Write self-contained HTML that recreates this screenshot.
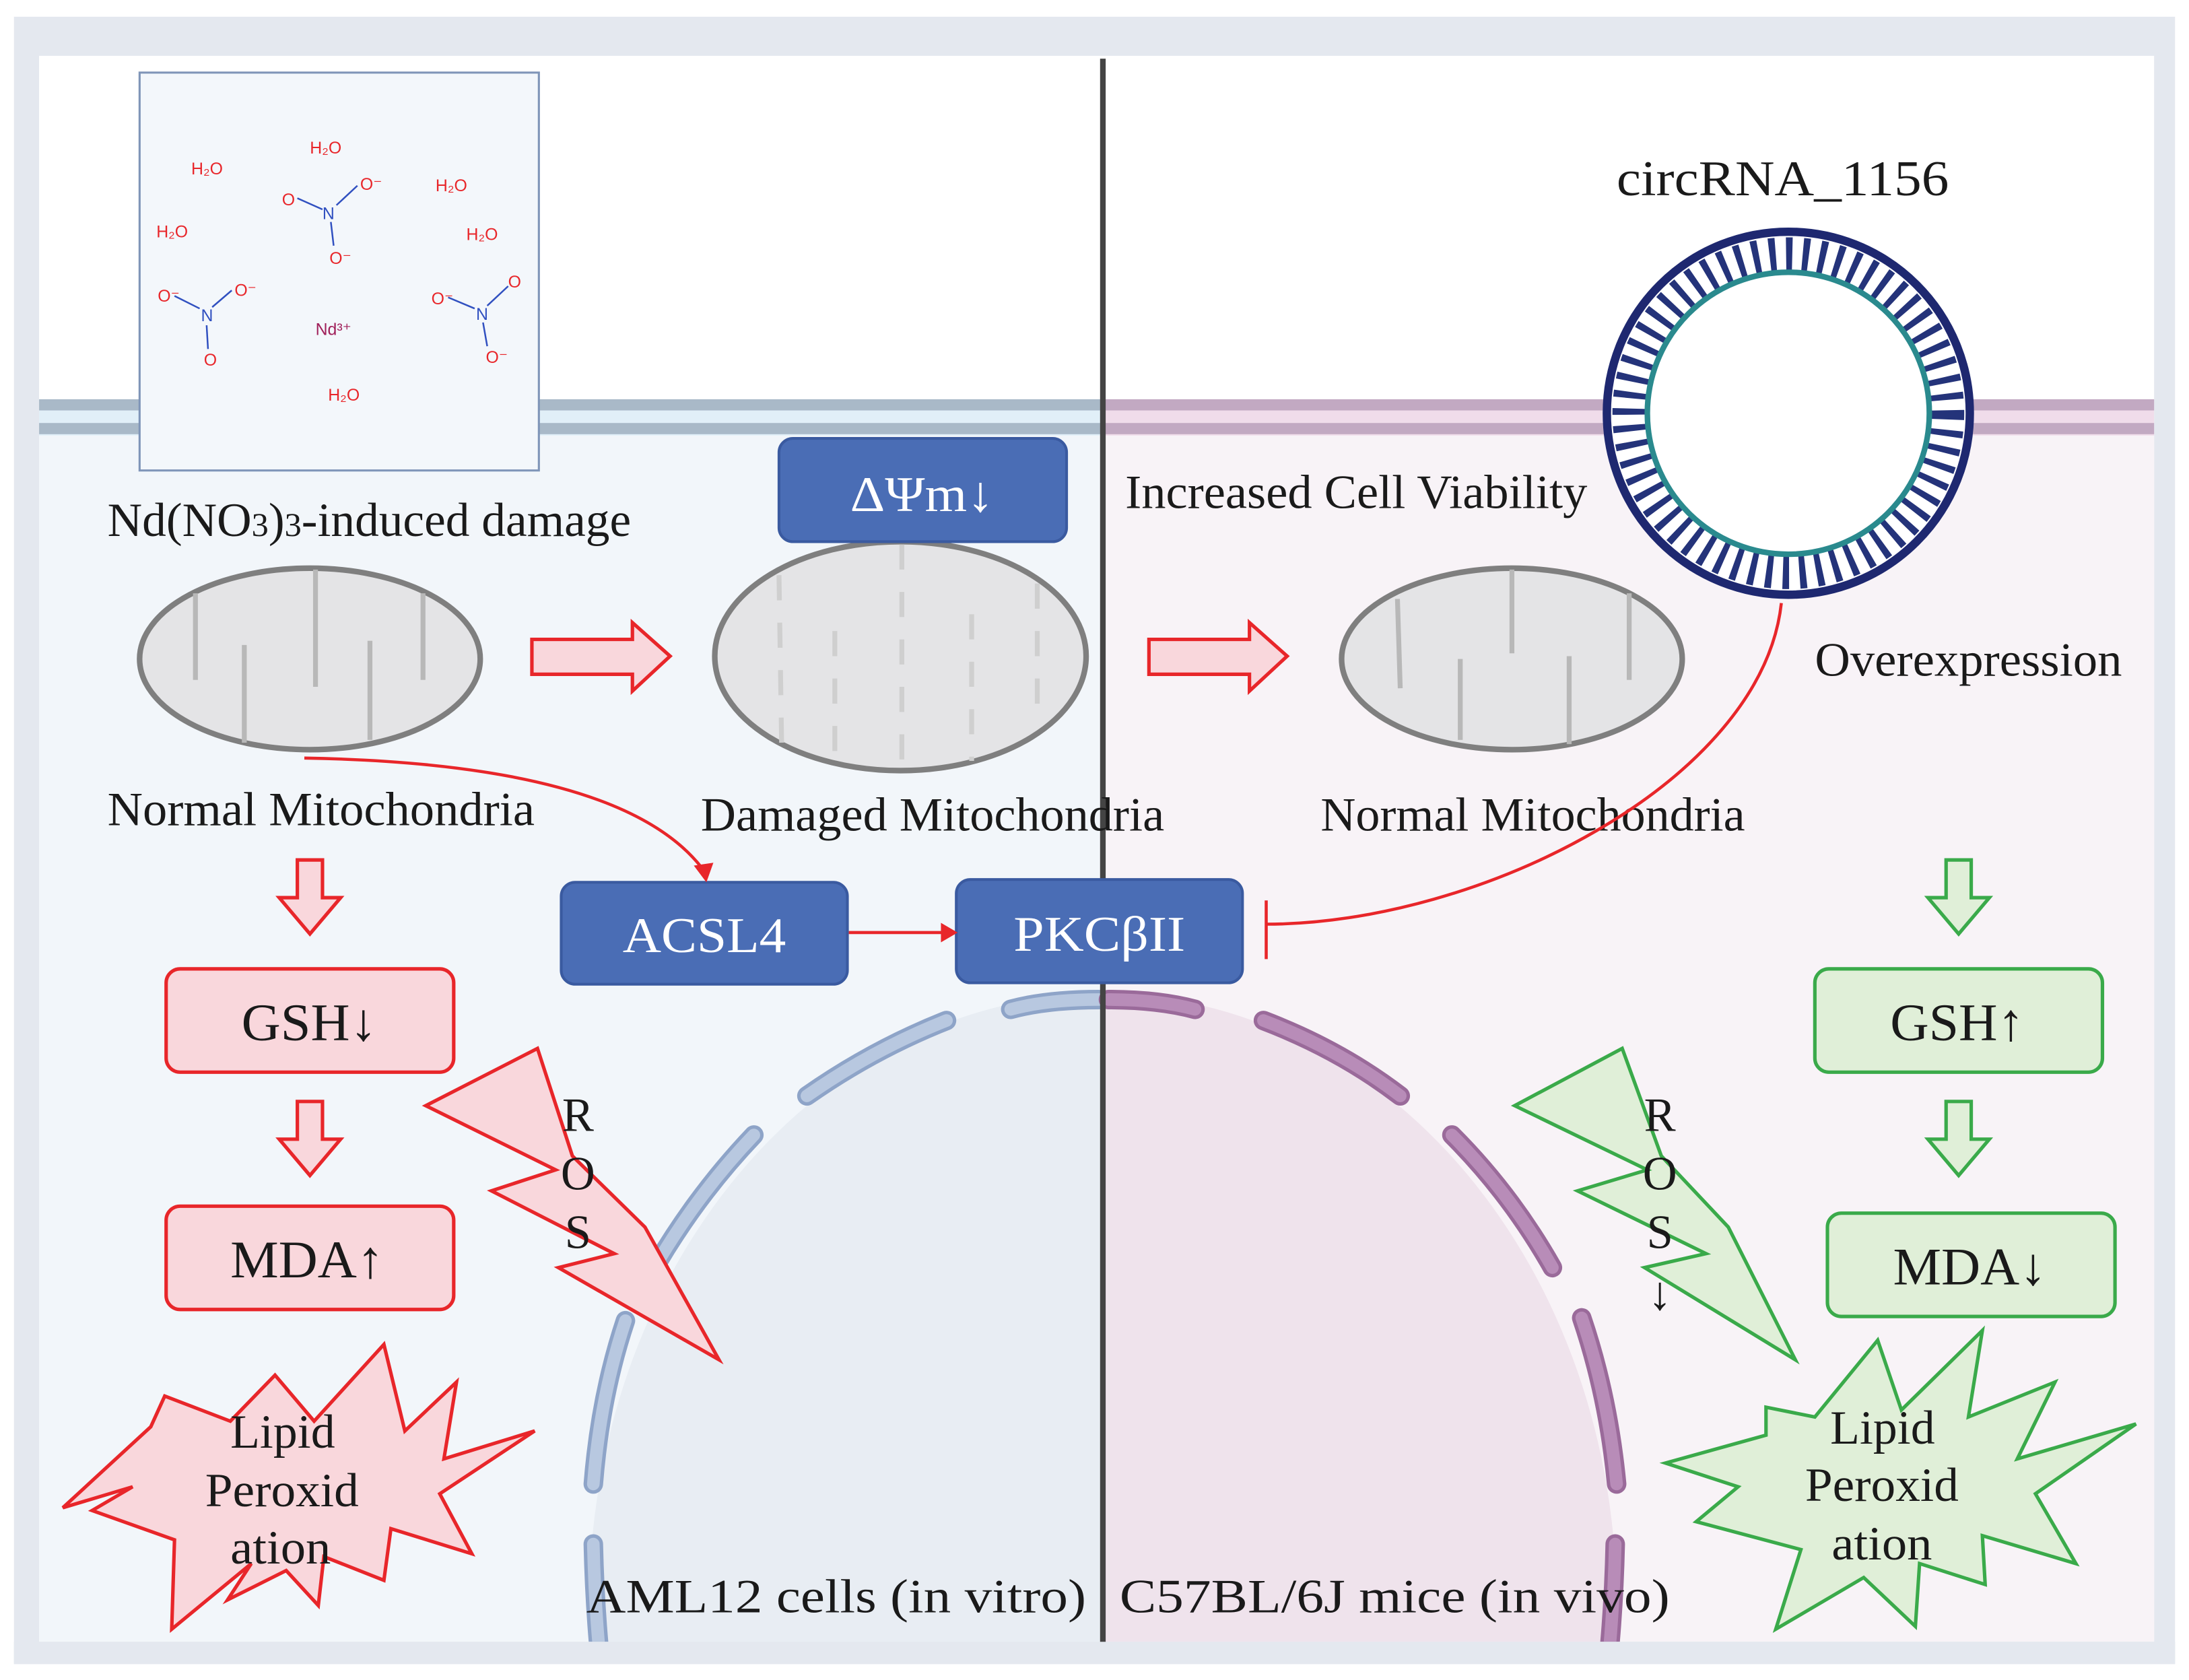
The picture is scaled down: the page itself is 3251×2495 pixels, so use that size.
<!DOCTYPE html>
<html><head><meta charset="utf-8"><style>
html,body{margin:0;padding:0;background:#fff;overflow:hidden;width:3251px;height:2495px;position:relative}
svg{display:block;position:absolute;left:0;top:0}
text{font-family:"Liberation Serif",serif;fill:#1a1a1a}
.w{fill:#fff}
</style></head><body>
<svg width="3251" height="2495" viewBox="0 0 1568 1203.4" preserveAspectRatio="none" xmlns="http://www.w3.org/2000/svg">
<defs>
<clipPath id="cl"><rect x="28" y="40" width="762" height="1136"/></clipPath>
<clipPath id="cr"><rect x="790" y="40" width="753" height="1136"/></clipPath>
<clipPath id="ca"><rect x="28" y="40" width="1515" height="1136"/></clipPath>
</defs>
<rect width="1568" height="1203.4" fill="#fff"/>
<rect x="10" y="12" width="1548" height="1180" fill="#e4e8ef"/>
<rect x="28" y="40" width="1515" height="1136" fill="#fff"/>
<rect x="28" y="300" width="762" height="876" fill="#f2f6fa"/>
<rect x="790" y="300" width="753" height="876" fill="#f8f3f7"/>
<rect x="28" y="286" width="762" height="26" fill="#e1eff8"/>
<rect x="28" y="286" width="762" height="8" fill="#a9b9c8"/>
<rect x="28" y="303" width="762" height="8" fill="#a9b9c8"/>
<rect x="790" y="286" width="753" height="26" fill="#f0dcea"/>
<rect x="790" y="286" width="753" height="8" fill="#c2a9c2"/>
<rect x="790" y="303" width="753" height="8" fill="#c2a9c2"/>
<g clip-path="url(#cl)"><ellipse cx="790" cy="1150" rx="368" ry="438" fill="#e8edf3"/></g>
<g clip-path="url(#cr)"><ellipse cx="790" cy="1150" rx="368" ry="438" fill="#efe3ec"/></g>
<g clip-path="url(#ca)" fill="none" stroke-linecap="round">
<g stroke="#8ea4c8" stroke-width="14">
<path d="M724,723 Q750,716 787,716"/>
<path d="M578,785 Q625,752 678,731"/>
<path d="M470,906 Q500,855 540,813"/>
<path d="M425,1063 Q430,1000 448,946"/>
<path d="M425,1106 Q426,1150 430,1190"/>
</g>
<g stroke="#b8c8e0" stroke-width="9">
<path d="M724,723 Q750,716 787,716"/>
<path d="M578,785 Q625,752 678,731"/>
<path d="M470,906 Q500,855 540,813"/>
<path d="M425,1063 Q430,1000 448,946"/>
<path d="M425,1106 Q426,1150 430,1190"/>
</g>
<g stroke="#9a6a9a" stroke-width="14">
<path d="M794,716 Q830,716 856,723"/>
<path d="M905,731 Q960,752 1003,785"/>
<path d="M1040,813 Q1082,855 1112,908"/>
<path d="M1133,944 Q1152,1000 1158,1063"/>
<path d="M1157,1106 Q1156,1150 1152,1190"/>
</g>
<g stroke="#b88cb8" stroke-width="9">
<path d="M794,716 Q830,716 856,723"/>
<path d="M905,731 Q960,752 1003,785"/>
<path d="M1040,813 Q1082,855 1112,908"/>
<path d="M1133,944 Q1152,1000 1158,1063"/>
<path d="M1157,1106 Q1156,1150 1152,1190"/>
</g>
</g>
<rect x="10" y="1176" width="1548" height="16" fill="#e4e8ef"/>
<line x1="790" y1="42" x2="790" y2="1176" stroke="#444" stroke-width="4"/>
<rect x="100" y="52" width="286" height="285" fill="#f3f7fb" stroke="#7f95b8" stroke-width="1.5"/>
<g font-size="12">
<text x="137" y="125" style="fill:#e8262a;font-family:'Liberation Sans',sans-serif">H₂O</text>
<text x="222" y="110" style="fill:#e8262a;font-family:'Liberation Sans',sans-serif">H₂O</text>
<text x="312" y="137" style="fill:#e8262a;font-family:'Liberation Sans',sans-serif">H₂O</text>
<text x="112" y="170" style="fill:#e8262a;font-family:'Liberation Sans',sans-serif">H₂O</text>
<text x="334" y="172" style="fill:#e8262a;font-family:'Liberation Sans',sans-serif">H₂O</text>
<text x="235" y="287" style="fill:#e8262a;font-family:'Liberation Sans',sans-serif">H₂O</text>
<text x="226" y="240" style="fill:#a0205a;font-family:'Liberation Sans',sans-serif">Nd³⁺</text>
<text x="202" y="147" style="fill:#e8262a;font-family:'Liberation Sans',sans-serif">O</text>
<text x="231" y="157" style="fill:#3050c0;font-family:'Liberation Sans',sans-serif">N</text>
<text x="258" y="136" style="fill:#e8262a;font-family:'Liberation Sans',sans-serif">O⁻</text>
<text x="236" y="189" style="fill:#e8262a;font-family:'Liberation Sans',sans-serif">O⁻</text>
<text x="113" y="216" style="fill:#e8262a;font-family:'Liberation Sans',sans-serif">O⁻</text>
<text x="144" y="230" style="fill:#3050c0;font-family:'Liberation Sans',sans-serif">N</text>
<text x="168" y="212" style="fill:#e8262a;font-family:'Liberation Sans',sans-serif">O⁻</text>
<text x="146" y="262" style="fill:#e8262a;font-family:'Liberation Sans',sans-serif">O</text>
<text x="309" y="218" style="fill:#e8262a;font-family:'Liberation Sans',sans-serif">O⁻</text>
<text x="341" y="229" style="fill:#3050c0;font-family:'Liberation Sans',sans-serif">N</text>
<text x="364" y="206" style="fill:#e8262a;font-family:'Liberation Sans',sans-serif">O</text>
<text x="348" y="260" style="fill:#e8262a;font-family:'Liberation Sans',sans-serif">O⁻</text>
</g>
<g stroke="#3050c0" stroke-width="1.2">
<line x1="213" y1="142" x2="231" y2="150"/><line x1="241" y1="147" x2="256" y2="133"/><line x1="237" y1="159" x2="239" y2="176"/>
<line x1="125" y1="212" x2="143" y2="221"/><line x1="152" y1="220" x2="166" y2="208"/><line x1="148" y1="233" x2="149" y2="250"/>
<line x1="321" y1="213" x2="340" y2="221"/><line x1="349" y1="219" x2="364" y2="205"/><line x1="346" y1="231" x2="349" y2="248"/>
</g>
<g font-size="34">
<text x="77" y="384" textLength="375" lengthAdjust="spacingAndGlyphs">Nd(NO<tspan font-size="24">3</tspan>)<tspan font-size="24">3</tspan>-induced damage</text>
<text x="77" y="591" textLength="306" lengthAdjust="spacingAndGlyphs">Normal Mitochondria</text>
<text x="502" y="595" textLength="332" lengthAdjust="spacingAndGlyphs">Damaged Mitochondria</text>
<text x="806" y="364" textLength="331" lengthAdjust="spacingAndGlyphs">Increased Cell Viability</text>
<text x="946" y="595" textLength="304" lengthAdjust="spacingAndGlyphs">Normal Mitochondria</text>
<text x="1300" y="484" textLength="220" lengthAdjust="spacingAndGlyphs">Overexpression</text>
<text x="1158" y="140" font-size="36" textLength="238" lengthAdjust="spacingAndGlyphs">circRNA_1156</text>
<text x="420" y="1155" textLength="358" lengthAdjust="spacingAndGlyphs">AML12 cells (in vitro)</text>
<text x="802" y="1155" textLength="394" lengthAdjust="spacingAndGlyphs">C57BL/6J mice (in vivo)</text>
</g>
<g fill="#e4e4e6" stroke="#7f7f7f" stroke-width="4">
<ellipse cx="222" cy="472" rx="122" ry="65"/>
<ellipse cx="645" cy="470" rx="133" ry="82"/>
<ellipse cx="1083" cy="472" rx="122" ry="65"/>
</g>
<g stroke="#b8b8b8" stroke-width="3.5">
<line x1="140" y1="425" x2="140" y2="487"/><line x1="175" y1="462" x2="175" y2="532"/><line x1="226" y1="408" x2="226" y2="492"/><line x1="265" y1="459" x2="265" y2="530"/><line x1="303" y1="425" x2="303" y2="487"/>
<line x1="1001" y1="429" x2="1003" y2="493"/><line x1="1046" y1="472" x2="1046" y2="530"/><line x1="1083" y1="408" x2="1083" y2="468"/><line x1="1124" y1="470" x2="1124" y2="533"/><line x1="1167" y1="425" x2="1167" y2="487"/>
</g>
<g stroke="#cfcfcf" stroke-width="3.5" stroke-dasharray="18 16">
<line x1="558" y1="412" x2="560" y2="540"/><line x1="598" y1="452" x2="598" y2="545"/><line x1="646" y1="390" x2="646" y2="550"/><line x1="696" y1="440" x2="696" y2="545"/><line x1="743" y1="418" x2="743" y2="520"/>
</g>
<g fill="#f9d7dc" stroke="#e8262a" stroke-width="2.5">
<path d="M381,458 H453 V446 L480,470 L453,495 V483 H381 Z"/>
<path d="M823,458 H895 V446 L922,470 L895,495 V483 H823 Z"/>
<path d="M213,616 H231 V643 H244 L222,669 L200,643 H213 Z"/>
<path d="M213,789 H231 V816 H244 L222,842 L200,816 H213 Z"/>
</g>
<g fill="#e0efd8" stroke="#3aaa4a" stroke-width="2.5">
<path d="M1394,616 H1412 V643 H1425 L1403,669 L1381,643 H1394 Z"/>
<path d="M1394,789 H1412 V816 H1425 L1403,842 L1381,816 H1394 Z"/>
</g>
<g fill="#4a6db5" stroke="#3a5aa0" stroke-width="2">
<rect x="558" y="314" width="206" height="74" rx="10"/>
<rect x="402" y="632" width="205" height="73" rx="10"/>
<rect x="685" y="630" width="205" height="74" rx="10"/>
</g>
<g font-size="36">
<text class="w" x="609" y="366" textLength="103" lengthAdjust="spacingAndGlyphs">ΔΨm↓</text>
<text class="w" x="446" y="682" textLength="117" lengthAdjust="spacingAndGlyphs">ACSL4</text>
<text class="w" x="726" y="681" textLength="123" lengthAdjust="spacingAndGlyphs">PKCβII</text>
</g>
<g fill="#f9d7dc" stroke="#e8262a" stroke-width="2.5">
<rect x="119" y="694" width="206" height="74" rx="10"/>
<rect x="119" y="864" width="206" height="74" rx="10"/>
</g>
<g fill="#e0efd8" stroke="#3aaa4a" stroke-width="2.5">
<rect x="1300" y="694" width="206" height="74" rx="10"/>
<rect x="1309" y="869" width="206" height="74" rx="10"/>
</g>
<g font-size="38">
<text x="173" y="745" textLength="97" lengthAdjust="spacingAndGlyphs">GSH↓</text>
<text x="165" y="915" textLength="110" lengthAdjust="spacingAndGlyphs">MDA↑</text>
<text x="1354" y="745" textLength="96" lengthAdjust="spacingAndGlyphs">GSH↑</text>
<text x="1356" y="920" textLength="110" lengthAdjust="spacingAndGlyphs">MDA↓</text>
</g>
<polygon points="385,751 305,792 398,838 352,853 440,898 400,908 515,974 462,879 410,828" fill="#f9d7dc" stroke="#e8262a" stroke-width="2.5"/>
<polygon points="1162,751 1085,792 1180,838 1130,853 1222,898 1178,908 1286,974 1238,879 1190,828" fill="#e0efd8" stroke="#3aaa4a" stroke-width="2.5"/>
<g font-size="34" text-anchor="middle">
<text x="414" y="810">R</text><text x="414" y="852">O</text><text x="414" y="894">S</text>
<text x="1189" y="810">R</text><text x="1189" y="852">O</text><text x="1189" y="894">S</text><text x="1189" y="938">↓</text>
</g>
<polygon points="275,963 290,1025 327,990 318,1045 383,1025 315,1070 338,1113 280,1095 275,1132 232,1115 228,1150 205,1125 163,1146 180,1120 123,1167 125,1103 66,1082 95,1065 45,1080 108,1022 118,1000 165,1018 197,985 225,1018" fill="#f9d7dc" stroke="#e8262a" stroke-width="2.5"/>
<polygon points="1420,953 1410,1015 1472,990 1445,1045 1530,1020 1458,1070 1487,1120 1420,1100 1422,1135 1375,1120 1372,1165 1335,1130 1272,1167 1290,1110 1215,1090 1245,1065 1193,1048 1265,1028 1265,1008 1300,1015 1345,960 1362,1010" fill="#e0efd8" stroke="#3aaa4a" stroke-width="2.5"/>
<g font-size="34">
<text x="165" y="1037" textLength="75" lengthAdjust="spacingAndGlyphs">Lipid</text><text x="147" y="1079" textLength="110" lengthAdjust="spacingAndGlyphs">Peroxid</text><text x="165" y="1120" textLength="72" lengthAdjust="spacingAndGlyphs">ation</text>
<text x="1311" y="1034" textLength="75" lengthAdjust="spacingAndGlyphs">Lipid</text><text x="1293" y="1075" textLength="110" lengthAdjust="spacingAndGlyphs">Peroxid</text><text x="1312" y="1117" textLength="72" lengthAdjust="spacingAndGlyphs">ation</text>
</g>
<g fill="none" stroke="#e8262a" stroke-width="2.2">
<path d="M218,543 Q445,547 503,622"/>
<path d="M608,668 H676"/>
<path d="M1276,432 C1262,560 1060,662 907,662"/>
<path d="M907,645 V687"/>
</g>
<polygon points="497,620 511,618 506,632" fill="#e8262a"/>
<polygon points="674,661 686,668 674,675" fill="#e8262a"/>
<circle cx="1281" cy="296" r="130" fill="#fff" stroke="#1e2870" stroke-width="6"/>
<circle cx="1281" cy="296" r="114" fill="none" stroke="#24337a" stroke-width="24" stroke-dasharray="4.5 7.4"/>
<circle cx="1281" cy="296" r="101" fill="#fff" stroke="#2a8a8e" stroke-width="4"/>
</svg>
</body></html>
